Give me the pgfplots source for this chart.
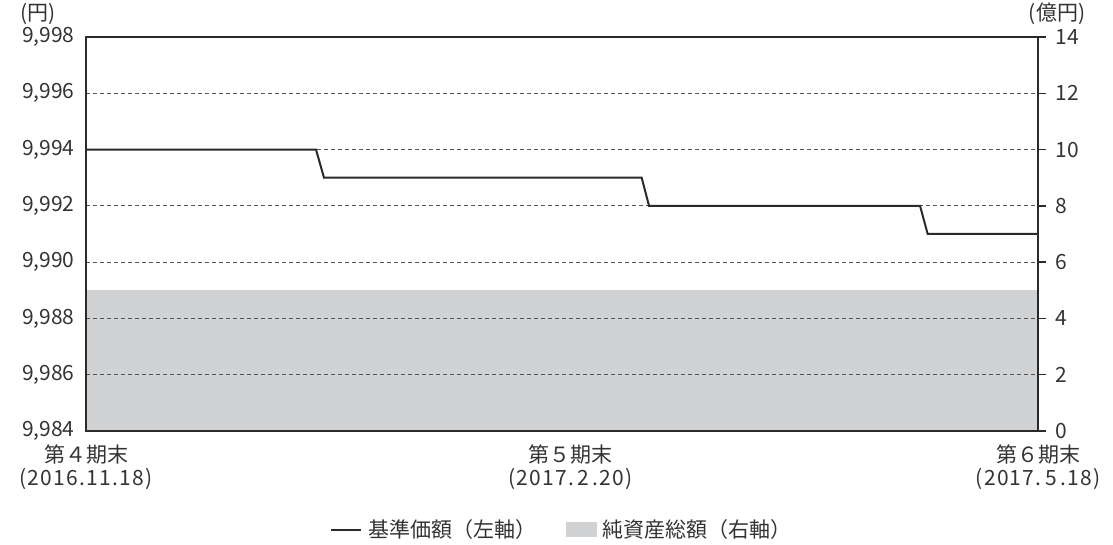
\documentclass[border=0pt]{standalone}
\usepackage{pgfplots}
\pgfplotsset{compat=1.18}
\usepackage{fontspec}
\setmainfont{Noto Sans CJK JP}
\newfontfamily\datefont[LetterSpace=6]{Noto Sans CJK JP}
\definecolor{txt}{HTML}{333333}
\definecolor{spine}{HTML}{2A2A2A}
\definecolor{area}{HTML}{D1D2D4}
\begin{document}
\begin{tikzpicture}
\useasboundingbox (0,0) rectangle (1113pt,544pt);
% right axis: net assets area
\begin{axis}[at={(86pt,113pt)}, anchor=south west, scale only axis,
  width=952pt, height=394pt,
  xmin=0, xmax=100, ymin=0, ymax=14,
  axis x line=none, axis y line*=right,
  ytick={0,2,...,14}, tick align=outside, major tick length=8pt,
  every tick/.style={spine, line width=1.5pt},
  axis line style={spine, line width=1.5pt, -},
  yticklabel style={font=\fontsize{21}{24}\selectfont, text=txt, xshift=6pt},
  /pgf/number format/assume math mode=true,
  clip=false]
\addplot[fill=area, draw=none] coordinates {(0,0) (0,5) (100,5) (100,0)} -- cycle;
\node[anchor=south, font=\fontsize{21}{23}\selectfont, text=txt] at (axis cs:100,14) [xshift=19pt, yshift=9pt] {(億円)};
\end{axis}
% left axis: NAV line
\begin{axis}[at={(86pt,113pt)}, anchor=south west, scale only axis,
  width=952pt, height=394pt,
  xmin=0, xmax=100, ymin=9984, ymax=9998,
  ytick={9984,9986,...,9998}, major tick length=0pt,
  axis line style={spine, line width=1.5pt},
  ymajorgrids, grid style={dashed, dash pattern=on 4pt off 3pt, line width=0.7pt, spine!80},
  yticklabel style={font=\fontsize{21}{24}\selectfont, text=txt, xshift=-8pt},
  /pgf/number format/.cd, 1000 sep={,}, assume math mode=true, /pgfplots/.cd,
  xtick={0,50.9,100},
  xticklabels={{第４期末\\{\datefont(2016.11.18)}},{第５期末\\{\datefont(2017.\,2\,.20)}},{第６期末\\{\datefont(2017.\,5\,.18)}}},
  xticklabel style={font=\fontsize{21}{23}\selectfont, text=txt, align=center, yshift=-10pt},
  legend style={at={(0.5,-0.215)}, anchor=north, draw=none, fill=none,
    font=\fontsize{21}{23}\selectfont, text=txt, legend columns=2,
    /tikz/every odd column/.append style={column sep=4pt},
    /tikz/every even column/.append style={column sep=28pt}},
  legend image code/.code={\draw[#1] (0pt,0pt) -- (30pt,0pt);},
  clip=false]
\addplot[spine, line width=2pt] coordinates {
(0,9994) (24.16,9994) (25.0,9993) (58.37,9993) (59.14,9992) (87.61,9992) (88.41,9991) (100,9991)};
\addlegendentry{基準価額（左軸）}
\addlegendimage{legend image code/.code={\fill[area] (0pt,-7pt) rectangle (30pt,7pt);}}
\addlegendentry{純資産総額（右軸）}
\node[anchor=south east, font=\fontsize{21}{23}\selectfont, text=txt] at (axis cs:0,9998) [xshift=-27pt, yshift=9pt] {(円)};
\end{axis}
\end{tikzpicture}
\end{document}
